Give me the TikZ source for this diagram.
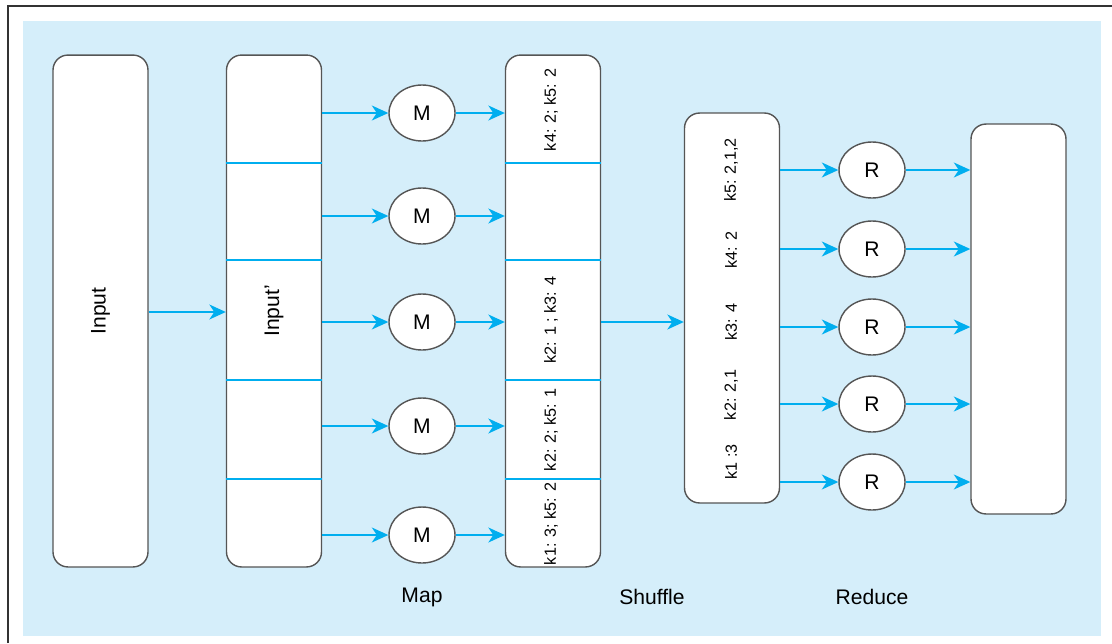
\documentclass[tikz,border=0pt]{standalone}
\usepackage{fontspec}
\setmainfont{Liberation Sans}
\usetikzlibrary{shapes.geometric,arrows.meta}
\definecolor{bgblue}{RGB}{213,238,250}
\definecolor{flowblue}{RGB}{0,174,239}
\definecolor{boxgray}{RGB}{85,85,85}

\begin{document}
\begin{tikzpicture}[x=0.02cm,y=-0.02cm,
        box/.style={draw=boxgray, line width=0.8pt, fill=white, rounded corners=0.3cm,
            minimum width=1.9cm, inner sep=0pt},
        func/.style={ellipse, draw=boxgray, line width=0.8pt, fill=white, minimum width=1.32cm,
            minimum height=1.12cm, inner sep=0pt, font=\fontsize{12}{14}\selectfont},
        flow/.style={flowblue, line width=0.9pt, -{Stealth[length=3.3mm,width=3mm,inset=1mm]}},
        split/.style={flowblue, line width=0.9pt},
        vtext/.style={rotate=90, font=\fontsize{9.2}{11}\selectfont},
        stage/.style={font=\fontsize{12}{14}\selectfont}]
        \useasboundingbox (0,0) rectangle (1112,643);

        % Frame and background
        \draw[line width=1pt, black!80] (8,643) -- (8,6) -- (1112,6);
        \fill[bgblue] (23,21) rectangle (1101,636);

        % Define nodes
        \node[box, minimum height=10.24cm] (In) at (100.5,311) {};
        \node[rotate=90, stage] (InT) at (In) {Input};

        \node[box, minimum height=10.24cm] (Ip) at (274,311) {};
        \node[rotate=90, stage] (IpT) at (Ip) {Input'};

        \foreach \i/\y in {1/113,2/216,3/322,4/426,5/535}
            \node[func] (M\i) at (422,\y) {M};

        \node[box, minimum height=10.24cm] (Kb) at (553,311) {};
        \node[vtext] (K1) at (551,110) {k4: 2; k5: 2};
        \node[vtext] (K3) at (551,320) {k2: 1 ; k3: 4};
        \node[vtext] (K4) at (551,430) {k2: 2; k5: 1};
        \node[vtext] (K5) at (551,524) {k1: 3; k5: 2};

        \node[box, minimum height=7.8cm] (Sh) at (732,308) {};
        \node[vtext] (S1) at (731,170) {k5: 2,1,2};
        \node[vtext] (S2) at (731,250) {k4: 2};
        \node[vtext] (S3) at (731,322) {k3: 4};
        \node[vtext] (S4) at (731,395) {k2: 2,1};
        \node[vtext] (S5) at (731,462) {k1 :3};

        \foreach \i/\y in {1/170,2/249,3/327,4/404,5/482}
            \node[func] (R\i) at (872,\y) {R};

        \node[box, minimum height=7.8cm] (Out) at (1018.5,319) {};

        \node[stage] (Map) at (422,597) {Map};
        \node[stage] (Shuffle) at (652,597) {Shuffle};
        \node[stage] (Reduce) at (872,597) {Reduce};

        % Split lines
        \foreach \y in {163,260,380,479} {
            \draw[split] (Ip.west |- 0,\y) -- (Ip.east |- 0,\y);
            \draw[split] (Kb.west |- 0,\y) -- (Kb.east |- 0,\y);
        }

        % Draw edges
        \draw[flow] (In.east |- 0,312) -- (Ip.west |- 0,312);
        \foreach \i in {1,2,3,4,5} {
            \draw[flow] (Ip.east |- M\i) -- (M\i);
            \draw[flow] (M\i) -- (Kb.west |- M\i);
        }
        \draw[flow] (Kb.east |- 0,322) -- (Sh.west |- 0,322);
        \foreach \i in {1,2,3,4,5} {
            \draw[flow] (Sh.east |- R\i) -- (R\i);
            \draw[flow] (R\i) -- (Out.west |- R\i);
        }
    \end{tikzpicture}
\end{document}
